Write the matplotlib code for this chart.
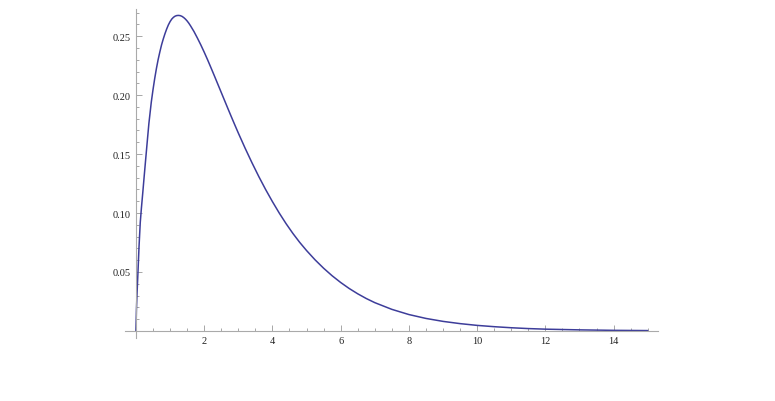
import matplotlib
matplotlib.use("Agg")
import matplotlib.pyplot as plt
from matplotlib.ticker import MultipleLocator, FixedLocator

# values (estimated along the drawn line)
x_vals = [0, 0.015, 0.03, 0.06, 0.09, 0.127, 0.16, 0.2, 0.24, 0.284, 0.33, 0.38,
          0.45, 0.5, 0.55, 0.6, 0.65, 0.7, 0.75, 0.8, 0.85, 0.9, 0.95, 1.0, 1.05,
          1.1, 1.15, 1.2, 1.25, 1.3, 1.35, 1.4, 1.45, 1.5, 1.55, 1.6, 1.7, 1.8,
          1.9, 2.0, 2.1, 2.2, 2.3, 2.4, 2.5, 2.6, 2.7, 2.8, 2.9, 3.0, 3.2, 3.4,
          3.6, 3.8, 4.0, 4.2, 4.4, 4.6, 4.8, 5.0, 5.25, 5.5, 5.75, 6.0, 6.25,
          6.5, 6.75, 7.0, 7.5, 8.0, 8.5, 9.0, 9.5, 10.0, 10.5, 11.0, 11.5, 12.0,
          13.0, 14.0, 15.0]
y_vals = [0, 0.018, 0.030, 0.050, 0.071, 0.092, 0.104, 0.117, 0.1305, 0.145,
          0.160, 0.176, 0.194, 0.2045, 0.214, 0.2225, 0.2300, 0.2365, 0.2425,
          0.2475, 0.2520, 0.2560, 0.2595, 0.2623, 0.2645, 0.2660, 0.2670, 0.2675,
          0.2676, 0.2674, 0.2668, 0.2658, 0.2645, 0.2629, 0.2610, 0.2588, 0.2540,
          0.2485, 0.2427, 0.2365, 0.2300, 0.2232, 0.2163, 0.2093, 0.2023, 0.1953,
          0.1883, 0.1814, 0.1746, 0.1679, 0.1550, 0.1427, 0.1310, 0.1200, 0.1097,
          0.1000, 0.0910, 0.0827, 0.0751, 0.0682, 0.0603, 0.0532, 0.0468, 0.0411,
          0.0360, 0.0315, 0.0275, 0.0240, 0.0183, 0.0139, 0.0106, 0.0081, 0.0062,
          0.0047, 0.0036, 0.0027, 0.0020, 0.0015, 0.0009, 0.0005, 0.0003]
x_ticks = [2, 4, 6, 8, 10, 12, 14]
y_ticks = [0.05, 0.10, 0.15, 0.20, 0.25]
y_tick_labels = ["0.05", "0.10", "0.15", "0.20", "0.25"]

fig = plt.figure(figsize=(7.75, 4.02), dpi=100)
ax = fig.add_axes([0.1613, 0.1567, 0.6877, 0.8183])
ax.plot(x_vals, y_vals, color="#3d3d9a", lw=1.1, solid_joinstyle="round",
        solid_capstyle="round")

ax.set_xlim(-0.32, 15.3)
ax.set_ylim(-0.006, 0.273)

for s in ["top", "right"]:
    ax.spines[s].set_visible(False)
ax.spines["left"].set_position(("data", 0))
ax.spines["bottom"].set_position(("data", 0))
for s in ["left", "bottom"]:
    ax.spines[s].set_color("#aaaaaa")
    ax.spines[s].set_linewidth(0.8)

ax.xaxis.set_major_locator(FixedLocator(x_ticks))
ax.xaxis.set_minor_locator(MultipleLocator(0.5))
ax.yaxis.set_major_locator(FixedLocator(y_ticks))
ax.set_yticklabels(y_tick_labels)
ax.yaxis.set_minor_locator(MultipleLocator(0.01))

ax.tick_params(which="both", direction="in", color="#999999", width=0.6,
               labelsize=7.5, labelcolor="#222222")
ax.tick_params(which="major", length=4, pad=4)
ax.tick_params(which="minor", length=2)
for lab in ax.get_xticklabels() + ax.get_yticklabels():
    lab.set_family("Liberation Serif")

fig.savefig("out.png", dpi=100)
